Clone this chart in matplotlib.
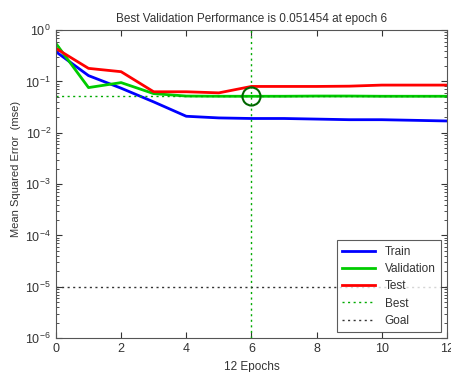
import matplotlib
matplotlib.use("Agg")
import matplotlib.pyplot as plt
import numpy as np

plt.rcParams['font.family'] = ['Liberation Sans', 'DejaVu Sans']
plt.rcParams['mathtext.fontset'] = 'custom'
plt.rcParams['mathtext.rm'] = 'Liberation Sans'
plt.rcParams['mathtext.it'] = 'Liberation Sans:italic'
plt.rcParams['mathtext.bf'] = 'Liberation Sans:bold'

epochs = [0, 1, 2, 3, 4, 5, 6, 7, 8, 9, 10, 11, 12]
train = [0.38, 0.13, 0.074, 0.04, 0.021, 0.0195, 0.019, 0.019, 0.0185, 0.018, 0.018, 0.0175, 0.017]
validation = [0.55, 0.076, 0.095, 0.058, 0.052, 0.0515, 0.051454, 0.0515, 0.052, 0.052, 0.0515, 0.0515, 0.0515]
test = [0.44, 0.18, 0.155, 0.063, 0.063, 0.060, 0.080, 0.080, 0.080, 0.081, 0.085, 0.085, 0.085]
best_epoch = 6
best_perf = 0.051454
goal = 1e-5

fig = plt.figure(figsize=(4.51, 3.72), dpi=100)
ax = fig.add_axes([0.124, 0.091, 0.867, 0.828])

ax.plot(epochs, train, color='#0000ff', lw=2, label='Train')
ax.plot(epochs, validation, color='#00cc00', lw=2, label='Validation')
ax.plot(epochs, test, color='#ff0000', lw=2, label='Test')
ax.axvline(best_epoch, color='#00aa00', ls=(0, (1.5, 2.5)), lw=1, label='Best')
ax.axhline(best_perf, color='#00aa00', ls=(0, (1.5, 2.5)), lw=1)
ax.axhline(goal, color='#333333', ls=(0, (1.5, 2.5)), lw=1, label='Goal')
ax.plot([best_epoch], [best_perf], 'o', ms=13, mfc='none', mec='#006600', mew=1.5)

ax.set_yscale('log')
ax.set_ylim(1e-6, 1)
ax.set_xlim(0, 12)
ax.set_xticks(range(0, 13, 2))
ax.tick_params(which='both', direction='in', top=True, right=True, labelsize=9, colors='#333333')
ax.tick_params(which='major', length=4)
ax.tick_params(which='minor', length=2)
for s in ax.spines.values():
    s.set_color('#555555')

ax.set_title('Best Validation Performance is 0.051454 at epoch 6', fontsize=8.5, color='#333333', pad=6)
ax.set_xlabel('12 Epochs', fontsize=8.5, color='#333333', labelpad=4)
ax.set_ylabel('Mean Squared Error  (mse)', fontsize=8, color='#333333')
ax.yaxis.set_label_coords(-0.09, 0.55)

leg = ax.legend(loc='lower right', fontsize=8.5, frameon=True, fancybox=False,
                edgecolor='#333333', handlelength=2.8, borderaxespad=0.5,
                labelspacing=0.45, borderpad=0.45)
leg.get_frame().set_linewidth(0.8)
for t in leg.get_texts():
    t.set_color('#333333')

fig.savefig('out.png', dpi=100)
